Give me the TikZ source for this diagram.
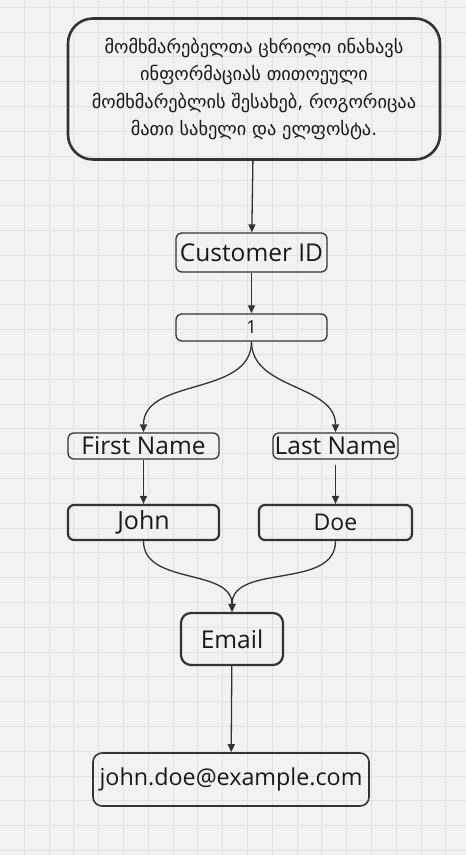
\documentclass[tikz,border=0pt]{standalone}
\usepackage{fontspec}
\setmainfont{Open Sans}
\newfontfamily\geofont{DejaVu Sans}
\usetikzlibrary{arrows.meta}
\definecolor{bg}{HTML}{F2F2F2}
\definecolor{gridc}{HTML}{E2E2E2}
\definecolor{ink}{HTML}{333333}
\tikzset{
  box/.style={draw=ink, rounded corners=6pt, line width=1.3pt, text=black!90,
    inner sep=0pt, font=\fontsize{24.5}{27}\selectfont},
  bold/.style={box, line width=2.2pt},
  link/.style={draw=ink, line width=1.3pt, -{Triangle[length=8pt,width=7pt]}},
}
\begin{document}
\begin{tikzpicture}[x=1pt,y=-1pt]
  \useasboundingbox (0,0) rectangle (466,855);
  \fill[bg] (0,0) rectangle (466,855);
  \foreach \i in {0,...,18} \draw[gridc, line width=0.9pt] (-0.5+24.8*\i,0) -- ++(0,855);
  \foreach \i in {0,...,34} \draw[gridc, line width=0.9pt] (0,7.2+24.8*\i) -- ++(466,0);

  \node[bold, line width=2.6pt, rounded corners=25pt, minimum width=372pt, minimum height=141pt,
    align=center, font=\geofont\fontsize{18.3}{27.3}\selectfont] (t) at (254,89)
    {მომხმარებელთა ცხრილი ინახავს\\ინფორმაციას თითოეული\\მომხმარებლის შესახებ, როგორიცაა\\მათი სახელი და ელფოსტა.};
  \node[box, minimum width=151pt, minimum height=39pt] (c) at (251.5,252.5) {Customer ID};
  \node[box, minimum width=151pt, minimum height=27pt, font=\fontsize{18}{20}\selectfont] (1) at (251.5,327.5) {1};
  \node[box, minimum width=151pt, minimum height=26pt] (f) at (143.5,446) {First Name};
  \node[box, minimum width=125pt, minimum height=26pt] (l) at (335.5,446) {Last Name};
  \node[bold, minimum width=151pt, minimum height=35pt, font=\fontsize{25}{27}\selectfont] (j) at (143.5,522.5) {John};
  \node[bold, minimum width=153pt, minimum height=35pt, font=\fontsize{23}{25}\selectfont] (d) at (335.5,522.5) {Doe};
  \node[bold, rounded corners=10pt, minimum width=102pt, minimum height=52pt] (e) at (232,639) {Email};
  \node[box, line width=1.6pt, rounded corners=9pt, minimum width=276pt, minimum height=53pt,
    font=\fontsize{23.3}{26}\selectfont] (m) at (231,779.5) {john.doe@example.com};

  \draw[link] (t) -- (c);
  \draw[link] (c) -- (1);
  \draw[link] (1.south) to[out=-90,in=90] (f.north);
  \draw[link] (1.south) to[out=-90,in=90] (l.north);
  \draw[link] (f) -- (j);
  \draw[link, shorten <=5pt] (l) -- (d);
  \draw[link] (j.south) to[out=-90,in=90] (e.north);
  \draw[link] (d.south) to[out=-90,in=90] (e.north);
  \draw[link] (e) -- (m);
\end{tikzpicture}
\end{document}
